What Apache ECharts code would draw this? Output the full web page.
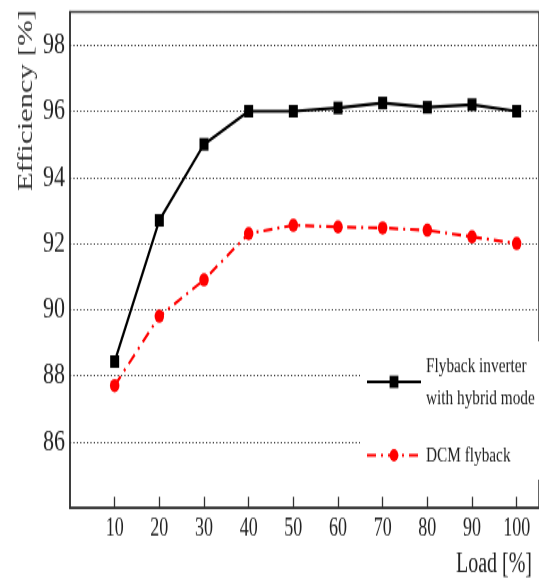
<!DOCTYPE html>
<html>
<head>
<meta charset="utf-8">
<script src="https://cdn.jsdelivr.net/npm/echarts@6/dist/echarts.min.js"></script>
<style>
    html, body { margin: 0; padding: 0; background: #fff; }
    body { width: 539px; height: 579px; }
    /* the source figure is stretched vertically, so the chart is too */
    #main { width: 539px; height: 414px; transform: scaleY(1.3986); transform-origin: 0 0; }
</style>
</head>
<body>
<div id="main"></div>
<script>
const loads = [10, 20, 30, 40, 50, 60, 70, 80, 90, 100]
const hybridEff = [88.43, 92.7, 95.0, 96.0, 96.0, 96.1, 96.25, 96.12, 96.2, 96.0]
const dcmEff = [87.7, 89.8, 90.9, 92.3, 92.55, 92.5, 92.47, 92.4, 92.2, 92.0]

const serif = 'Liberation Serif'
const ink = '#222'

const chart = echarts.init(document.getElementById('main'))

chart.setOption({
    animation: false,
    backgroundColor: '#fff',
    grid: {
        left: 70,
        right: -2,
        top: 8.6,
        bottom: 50.8,
        show: true,
        borderColor: '#333',
        borderWidth: 1.5
    },
    legend: {
        orient: 'vertical',
        left: 360,
        top: 244,
        padding: [6, 10, 6, 6],
        backgroundColor: '#fff',
        itemWidth: 54,
        itemHeight: 11,
        itemGap: 18,
        textStyle: {
            fontFamily: serif,
            fontSize: 15.3,
            lineHeight: 23,
            color: ink
        }
    },
    xAxis: {
        type: 'value',
        min: 0,
        max: 105,
        interval: 10,
        axisLine: { lineStyle: { color: '#333', width: 1.5 } },
        axisTick: { inside: true, length: 8, lineStyle: { color: '#333', width: 1.3 } },
        axisLabel: {
            showMinLabel: false,
            showMaxLabel: false,
            margin: 6,
            fontFamily: serif,
            fontSize: 18,
            color: ink
        },
        splitLine: { show: false }
    },
    yAxis: {
        type: 'value',
        min: 84,
        max: 99,
        interval: 2,
        axisLine: { show: true, lineStyle: { color: '#333', width: 1.5 } },
        axisTick: { show: false },
        axisLabel: {
            showMinLabel: false,
            showMaxLabel: false,
            margin: 5,
            fontFamily: serif,
            fontSize: 22,
            color: ink
        },
        splitLine: {
            lineStyle: { color: '#333', width: 1.2, type: [1.2, 2.2] }
        }
    },
    graphic: [
        {
            type: 'text',
            x: 26,
            y: 72,
            rotation: Math.PI / 2,
            style: {
                text: 'Efficiency [%]',
                font: '22px "Liberation Serif"',
                fill: '#333',
                textAlign: 'center',
                textVerticalAlign: 'middle'
            }
        },
        {
            type: 'text',
            x: 532,
            y: 404,
            style: {
                text: 'Load [%]',
                font: '20px "Liberation Serif"',
                fill: ink,
                textAlign: 'right',
                textVerticalAlign: 'middle'
            }
        }
    ],
    series: [
        {
            name: 'Flyback inverter\nwith hybrid mode',
            type: 'line',
            data: loads.map((x, i) => [x, hybridEff[i]]),
            symbol: 'rect',
            symbolSize: 9,
            itemStyle: { color: '#000' },
            lineStyle: { color: '#000', width: 2.2 },
            z: 3
        },
        {
            name: 'DCM flyback',
            type: 'line',
            data: loads.map((x, i) => [x, dcmEff[i]]),
            symbol: 'circle',
            symbolSize: 9.5,
            itemStyle: { color: '#ff0000' },
            lineStyle: { color: '#ff0000', width: 2.2, type: [9, 5, 2, 5] },
            z: 2
        }
    ]
})
</script>
</body>
</html>
